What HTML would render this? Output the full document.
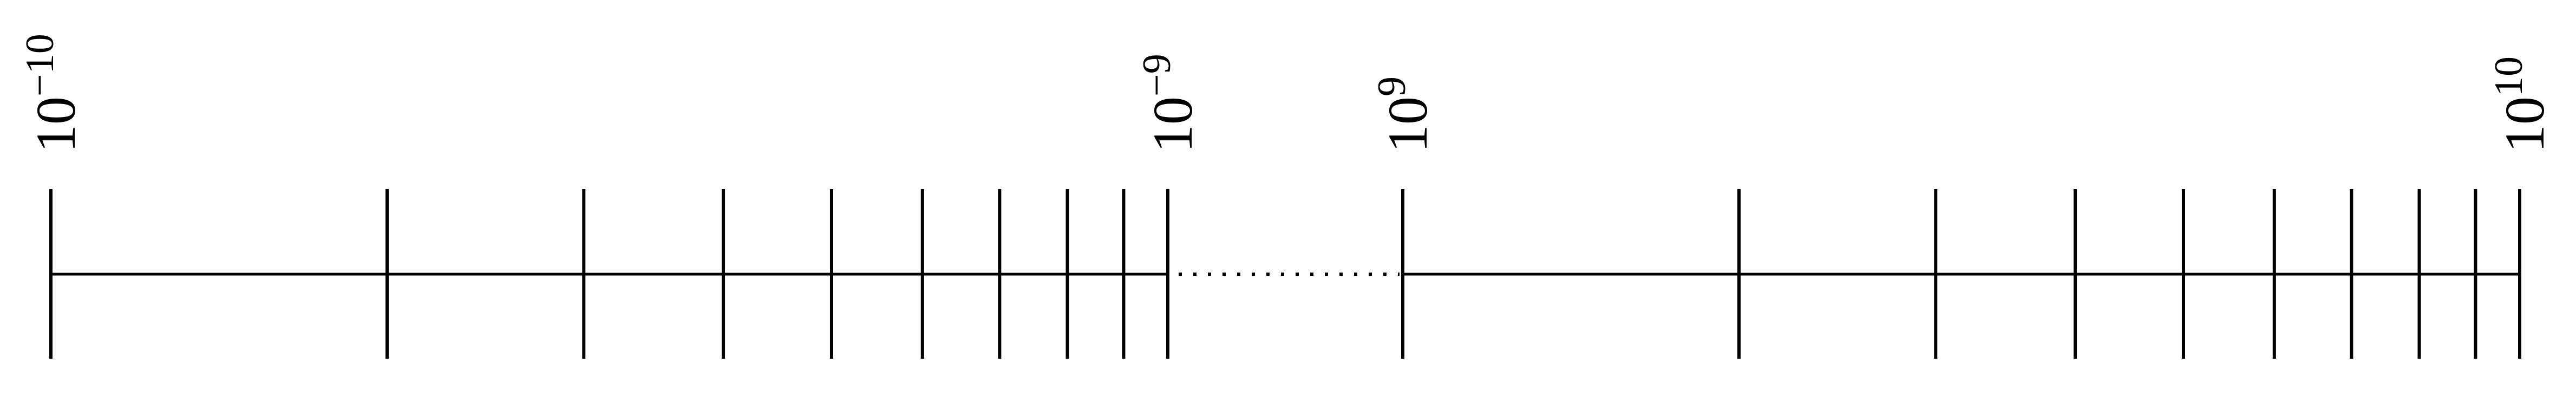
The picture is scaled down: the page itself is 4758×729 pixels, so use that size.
<!DOCTYPE html>
<html><head><meta charset="utf-8"><style>
html,body{margin:0;padding:0;background:#fff;}
svg{display:block;}
text{font-family:"Liberation Serif",serif;fill:#000;}
</style></head>
<body>
<svg id="chart" width="4758" height="729" viewBox="0 0 4758 729" xmlns="http://www.w3.org/2000/svg"></svg>
<script>
const segmentStarts = [-10, 9];
const segmentEnds = [-9, 10];
const minorMultiples = [1, 2, 3, 4, 5, 6.03, 7.07, 8.13, 9.13, 10];
const labelExponents = ["-10", "-9", "9", "10"];
const labelValues = [-10, -9, 9, 10];

const svg = document.getElementById('chart');
const NS = 'http://www.w3.org/2000/svg';
const segPx = [[94, 2157], [2591, 4654]];
const axisY = 506, tickTop = 349, tickBot = 662;

function xScale(seg, m) {
  const [a, b] = segPx[seg];
  return a + (b - a) * Math.log10(m);
}
function expToX(e) {
  for (let s = 0; s < segmentStarts.length; s++) {
    if (e === segmentStarts[s]) return segPx[s][0];
    if (e === segmentEnds[s]) return segPx[s][1];
  }
  return 0;
}
function line(x1, y1, x2, y2, w, dash) {
  const l = document.createElementNS(NS, 'line');
  l.setAttribute('x1', x1); l.setAttribute('y1', y1);
  l.setAttribute('x2', x2); l.setAttribute('y2', y2);
  l.setAttribute('stroke', '#000'); l.setAttribute('stroke-width', w);
  if (dash) l.setAttribute('stroke-dasharray', dash);
  svg.appendChild(l);
  return l;
}
for (let s = 0; s < segmentStarts.length; s++) {
  const ax = line(segPx[s][0], axisY, segPx[s][1], axisY, 5);
  
  
  minorMultiples.forEach(m => {
    const x = xScale(s, m);
    const t = line(x, tickTop, x, tickBot, 6);
    
    
  });
}
const gap = line(segPx[0][1] + 20, axisY, segPx[1][0] - 6, axisY, 6, '6 21');



labelValues.forEach((v, i) => {
  const x = expToX(v) + 44, y = 282;
  const t = document.createElementNS(NS, 'text');
  t.setAttribute('x', x); t.setAttribute('y', y);
  t.setAttribute('transform', `rotate(-90 ${x} ${y})`);
  t.setAttribute('font-size', '104');
  
  
  const base = document.createElementNS(NS, 'tspan');
  base.textContent = '10';
  t.appendChild(base);
  const sup = document.createElementNS(NS, 'tspan');
  sup.setAttribute('font-size', '74');
  sup.setAttribute('dy', '-40');
  sup.textContent = labelExponents[i].replace('-', '\u2212');
  t.appendChild(sup);
  svg.appendChild(t);
});
</script>
</body></html>
